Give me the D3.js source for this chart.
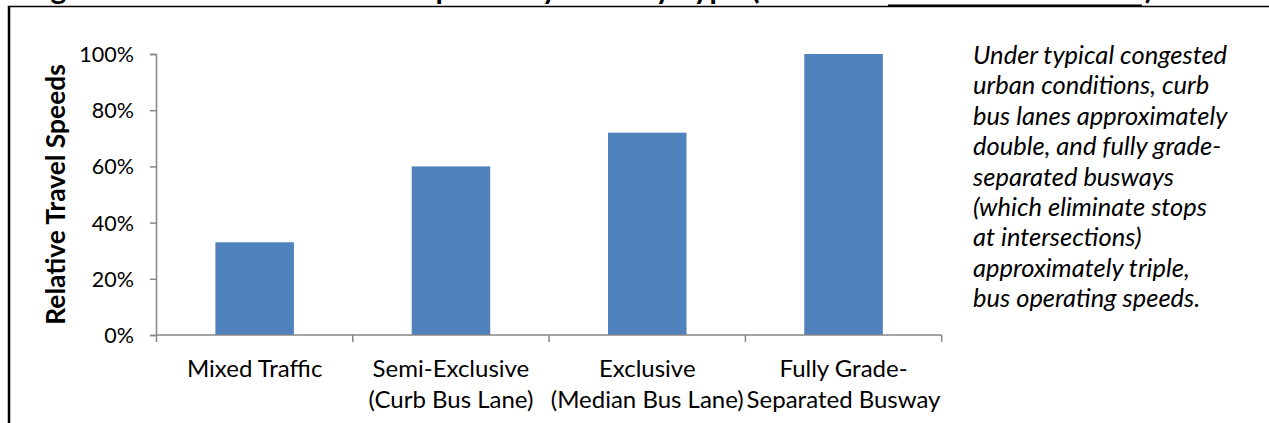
<!DOCTYPE html>
<html>
<head>
<meta charset="utf-8">
<script src="https://cdn.jsdelivr.net/npm/d3@7"></script>
<style>
  html, body { margin: 0; padding: 0; background: #fff; }
  svg { display: block; }
  text { font-family: Lato, "Open Sans", sans-serif; fill: #000; }
</style>
</head>
<body>
<svg id="chart" width="1269" height="423"></svg>
<script>
// Relative travel speed by busway type (share of the fastest type)
const categories = [
  ["Mixed Traffic"],
  ["Semi-Exclusive", "(Curb Bus Lane)"],
  ["Exclusive", "(Median Bus Lane)"],
  ["Fully Grade-", "Separated Busway"]
];
const speeds = [0.33, 0.60, 0.72, 1.00];
const yTicks = [0, 0.2, 0.4, 0.6, 0.8, 1.0];
const yTitle = "Relative Travel Speeds";
const figureTitle = "Figure 4: Relative Bus Travel Speeds by Busway Type (Source: Levinson et al. 2003)";
const noteLines = [
  "Under typical congested",
  "urban conditions, curb",
  "bus lanes approximately",
  "double, and fully grade-",
  "separated busways",
  "(which eliminate stops",
  "at intersections)",
  "approximately triple,",
  "bus operating speeds."
];

const svg = d3.select("#chart");
const axisColor = "#868686";
const barColor = "#4F81BD";

// Figure frame: caption running off the top edge, rule lines around the chart
svg.append("text")
  .attr("x", 25).attr("y", -1)
  .attr("font-size", 30).attr("font-weight", 700)
  .attr("textLength", 1128).attr("lengthAdjust", "spacing")
  .text(figureTitle);
svg.append("line").attr("x1", 8).attr("x2", 1269).attr("y1", 6.5).attr("y2", 6.5)
  .attr("stroke", "#000").attr("stroke-width", 1.5);
svg.append("line").attr("x1", 888).attr("x2", 1142).attr("y1", 5.5).attr("y2", 5.5)
  .attr("stroke", "#000").attr("stroke-width", 2);
svg.append("line").attr("x1", 9).attr("x2", 9).attr("y1", 6).attr("y2", 423)
  .attr("stroke", "#000").attr("stroke-width", 2.5);

// Scales
const x = d3.scaleBand()
  .domain(d3.range(categories.length))
  .range([156.5, 941.7])
  .paddingInner(0.6).paddingOuter(0.3);
const band = d3.scaleBand().domain(d3.range(categories.length)).range([156.5, 941.7]);
const y = d3.scaleLinear().domain([0, 1]).range([335, 54]);

// Bars
svg.append("g").selectAll("rect")
  .data(speeds)
  .join("rect")
  .attr("x", (d, i) => x(i))
  .attr("width", x.bandwidth())
  .attr("y", d => y(d))
  .attr("height", d => y(0) - y(d))
  .attr("fill", barColor);

// Y axis
const yAxis = svg.append("g")
  .attr("transform", "translate(156,0)")
  .call(d3.axisLeft(y).tickValues(yTicks).tickSize(6).tickPadding(16)
    .tickFormat(d3.format(".0%")));
yAxis.select(".domain").attr("stroke", axisColor).attr("stroke-width", 1.5);
yAxis.selectAll(".tick line").attr("stroke", axisColor).attr("stroke-width", 1.5);
yAxis.selectAll(".tick text")
  .attr("font-family", "Lato, sans-serif").attr("font-size", 21.5).attr("fill", "#000")
  .attr("dy", "0.35em");

// X axis: ticks on category boundaries
const xAxisG = svg.append("g").attr("transform", `translate(0,${y(0)})`);
xAxisG.append("line")
  .attr("x1", 156).attr("x2", band.range()[1])
  .attr("stroke", axisColor).attr("stroke-width", 1.5);
const boundaries = d3.range(categories.length + 1).map(i =>
  i < categories.length ? band(i) : band.range()[1]);
xAxisG.selectAll("line.bound")
  .data(boundaries)
  .join("line").attr("class", "bound")
  .attr("x1", d => d).attr("x2", d => d)
  .attr("y1", 0).attr("y2", 7)
  .attr("stroke", axisColor).attr("stroke-width", 1.5);

// Category labels
const catG = svg.append("g").selectAll("text")
  .data(categories)
  .join("text")
  .attr("text-anchor", "middle")
  .attr("font-size", 24)
  .attr("transform", (d, i) => `translate(${band(i) + band.bandwidth() / 2},377)`);
catG.selectAll("tspan")
  .data(d => d)
  .join("tspan")
  .attr("x", 0)
  .attr("y", (d, j) => j * 31)
  .text(d => d);

// Y axis title
svg.append("text")
  .attr("transform", `translate(65,${(y(0) + y(1)) / 2}) rotate(-90)`)
  .attr("text-anchor", "middle")
  .attr("font-size", 26.4).attr("font-weight", 700)
  .text(yTitle);

// Side note
svg.append("g").selectAll("text")
  .data(noteLines)
  .join("text")
  .attr("x", 973)
  .attr("y", (d, i) => 64 + i * 30.4)
  .attr("font-size", 25.5).attr("font-style", "italic")
  .text(d => d);
</script>
</body>
</html>
